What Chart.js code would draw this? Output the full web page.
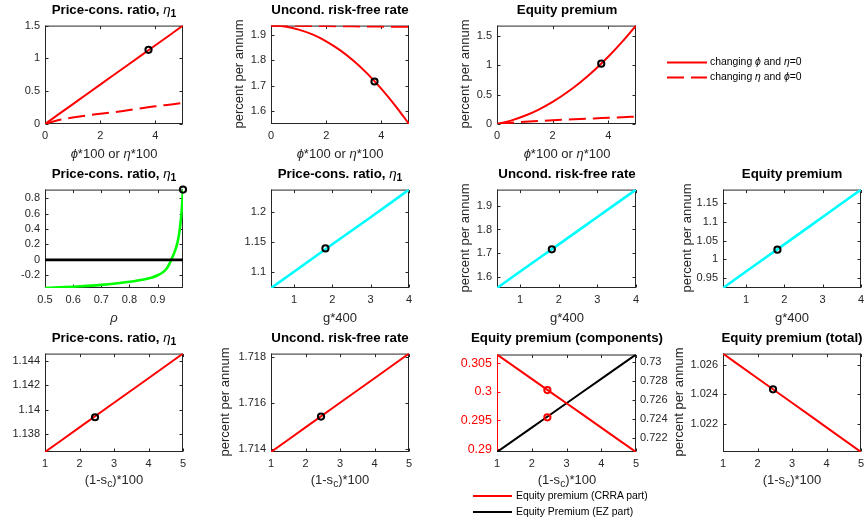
<!DOCTYPE html>
<html><head><meta charset="utf-8">
<script src="https://cdn.jsdelivr.net/npm/chart.js@4.4.1/dist/chart.umd.min.js"></script>
<style>
html,body{margin:0;padding:0;background:#fff}
body{width:864px;height:522px;position:relative;overflow:hidden;font-family:"Liberation Sans",Arial,Helvetica,sans-serif;}
canvas{position:absolute}
.txt{position:absolute;white-space:nowrap;line-height:1;}
.title{font-weight:bold;color:#000}
.lab{color:#262626;font-weight:normal}
.ylab{position:absolute;white-space:nowrap;color:#262626;font-weight:normal;text-align:center;width:160px;height:16px;line-height:16px;transform-origin:80px 8px;transform:rotate(-90deg)}
.lg{color:#000}
.gr{font-style:italic;font-weight:normal}
sub{font-size:78%;line-height:0;vertical-align:-0.28em}
svg{position:absolute;left:0;top:0}
</style></head><body>
<script>
// ---------------- DATA ----------------
// Row 1: changing phi (solid) or eta (dashed)
const phiEtaX = [0,0.5,1,1.5,2,2.5,3,3.5,4,4.5,5];
const pcPhi   = [0,0.15,0.30,0.45,0.60,0.75,0.90,1.05,1.20,1.35,1.50];
const pcEta   = [0,0.06,0.10,0.13,0.155,0.18,0.21,0.24,0.27,0.295,0.32];
const rfPhi   = [1.937,1.933,1.921,1.902,1.875,1.840,1.797,1.746,1.687,1.621,1.548];
const rfEta   = [1.937,1.9365,1.936,1.9355,1.935,1.9345,1.934,1.9335,1.933,1.9325,1.932];
const epPhi   = [0,0.058,0.140,0.247,0.378,0.534,0.714,0.919,1.148,1.402,1.680];
const epEta   = [0,0.020,0.037,0.050,0.064,0.075,0.085,0.096,0.106,0.117,0.127];
const phiMarkX = 3.75;
const phiMarkY = [1.13, 1.716, 1.03];           // pc, rf, ep

// Row 2: rho and g
const rhoX  = [0.5,0.55,0.6,0.65,0.7,0.75,0.8,0.85,0.88,0.9,0.92,0.93,0.94,0.95,0.96,0.97,0.975,0.98,0.985,0.99];
const pcRho = [-0.365,-0.357,-0.348,-0.337,-0.324,-0.307,-0.285,-0.255,-0.228,-0.200,-0.158,-0.122,-0.065,0.015,0.10,0.22,0.31,0.44,0.62,0.91];
const rhoZeroX = [0.5,0.99];
const rhoZeroY = [0,0];
const rhoMark = [0.99, 0.91];
const gX  = [0.4,1,2,3,4];
const pcG = [1.074,1.101,1.147,1.192,1.238];
const rfG = [1.552,1.622,1.737,1.853,1.969];
const epG = [0.924,0.968,1.040,1.113,1.186];
const gMarkX = 1.82;
const gMarkY = [1.14, 1.716, 1.026];

// Row 3: (1-s_c)*100
const scX    = [1,2,3,4,5];
const pcSc   = [1.13656,1.13857,1.14058,1.14259,1.1446];
const rfSc   = [1.71386,1.71493,1.716,1.71707,1.71814];
const epCrra = [0.3065,0.30225,0.298,0.29375,0.2895];
const epEz   = [0.72058,0.72313,0.72568,0.72822,0.73077];
const epTot  = [1.02677,1.0251,1.02344,1.02177,1.0201];
const scMarkX = 2.45;
const scMarkY = [1.1394, 1.7154, 0.3003, 0.7242, 1.02435]; // pc, rf, crra, ez, total

// Tick values
const xTicksPhi   = [0,2,4];
const yTicksPc1   = [0,0.5,1,1.5];
const yTicksRf1   = [1.6,1.7,1.8,1.9];
const yTicksEp1   = [0,0.5,1,1.5];
const xTicksRho   = [0.5,0.6,0.7,0.8,0.9];
const yTicksPcRho = [-0.2,0,0.2,0.4,0.6,0.8];
const xTicksG     = [1,2,3,4];
const yTicksPcG   = [1.1,1.15,1.2];
const yTicksRfG   = [1.6,1.7,1.8,1.9];
const yTicksEpG   = [0.95,1,1.05,1.1,1.15];
const xTicksSc    = [1,2,3,4,5];
const yTicksPcSc  = [1.138,1.14,1.142,1.144];
const yTicksRfSc  = [1.714,1.716,1.718];
const yTicksCrra  = [0.29,0.295,0.3,0.305];
const yTicksEz    = [0.722,0.724,0.726,0.728,0.73];
const yTicksTot   = [1.022,1.024,1.026];

// Text
const tPc = 'Price-cons. ratio, <span class="gr">η</span><sub>1</sub>';
const tRf = 'Uncond. risk-free rate';
const tEp = 'Equity premium';
const tEpC = 'Equity premium (components)';
const tEpT = 'Equity premium (total)';
const xlPhi = '<span class="gr">ϕ</span>*100 or <span class="gr">η</span>*100';
const xlRho = '<span class="gr">ρ</span>';
const xlG = 'g*400';
const xlSc = '(1-s<sub>c</sub>)*100';
const ylPct = 'percent per annum';
const legTop = ['changing <span class="gr">ϕ</span> and <span class="gr">η</span>=0', 'changing <span class="gr">η</span> and <span class="gr">ϕ</span>=0'];
const legBot = ['Equity premium (CRRA part)', 'Equity Premium (EZ part)'];

// ---------------- LAYOUT ----------------
const COLS = [[45,183],[271,409],[497,636],[723,861]];
const ROWS = [[24,124],[188,288],[352,452]];
const AX = '#262626', RED = '#ff0000', BLK = '#000000', GRN = '#00ff00', CYN = '#00ffff';
const FONT = "'Liberation Sans', Arial, Helvetica, sans-serif";
Chart.defaults.font.family = FONT;
Chart.defaults.font.size = 11;
Chart.defaults.color = AX;

const pts = (xs, ys) => xs.map((x, i) => ({x, y: ys[i]}));
const dmin = (...a) => Math.min(...a.flat());
const dmax = (...a) => Math.max(...a.flat());

function line(xs, ys, color, width, dash, axis) {
  return {data: pts(xs, ys), showLine: true, borderColor: color, borderWidth: width,
    borderDash: dash || [], pointRadius: 0, pointHoverRadius: 0, fill: false,
    cubicInterpolationMode: 'monotone', yAxisID: axis || 'y', order: 2};
}
function mark(x, y, color, axis) {
  return {data: [{x, y}], showLine: false, pointRadius: 3.1, pointHoverRadius: 3.1,
    pointBorderWidth: 2, pointBorderColor: color, pointBackgroundColor: 'rgba(0,0,0,0)',
    borderColor: color, clip: false, yAxisID: axis || 'y', order: 0};
}

const boxPlugin = {
  id: 'mbox',
  beforeDatasetsDraw(chart, args, opts) {
    const ctx = chart.ctx, a = chart.chartArea, sc = chart.scales;
    const l = a.left + 0.5, r = a.right - 0.5, t = a.top + 0.5, b = a.bottom - 0.5;
    const TL = 3;
    const lc = opts.leftColor || AX;
    ctx.save(); ctx.lineWidth = 1; ctx.setLineDash([]);
    const seg = (c, list) => { ctx.strokeStyle = c; ctx.beginPath();
      for (const p of list) { ctx.moveTo(p[0], p[1]); ctx.lineTo(p[2], p[3]); } ctx.stroke(); };
    const xs = sc.x.ticks.map(tk => Math.round(sc.x.getPixelForValue(tk.value)) + 0.5);
    seg(AX, xs.flatMap(px => [[px, b, px, b - TL], [px, t, px, t + TL]]));
    const ys = sc.y.ticks.map(tk => Math.round(sc.y.getPixelForValue(tk.value)) + 0.5);
    if (sc.y2) {
      seg(lc, ys.map(py => [l, py, l + TL, py]));
      const y2s = sc.y2.ticks.map(tk => Math.round(sc.y2.getPixelForValue(tk.value)) + 0.5);
      seg(AX, y2s.map(py => [r, py, r - TL, py]));
    } else {
      seg(AX, ys.flatMap(py => [[l, py, l + TL, py], [r, py, r - TL, py]]));
    }
    seg(AX, [[l - 0.5, t, r + 0.5, t], [l - 0.5, b, r + 0.5, b], [r, t - 0.5, r, b + 0.5]]);
    seg(lc, [[l, t - 0.5, l, b + 0.5]]);
    ctx.restore();
  }
};

const LW = 50, TP = 10, BH = 26;
function xScale(min, max, ticks) {
  return {type: 'linear', position: 'bottom', min, max,
    afterBuildTicks: s => { s.ticks = ticks.map(v => ({value: v})); },
    afterFit: s => { s.height = BH; },
    grid: {display: false, drawTicks: false}, border: {display: false},
    ticks: {padding: 5, maxRotation: 0, autoSkip: false, callback: v => String(v)}};
}
function yScale(min, max, ticks, pos, color, w, fs) {
  return {type: 'linear', position: pos, min, max,
    afterBuildTicks: s => { s.ticks = ticks.map(v => ({value: v})); },
    afterFit: s => { s.width = w; },
    grid: {display: false, drawTicks: false}, border: {display: false},
    ticks: {padding: pos === 'left' ? 5 : 4, autoSkip: false, color: color || AX,
      font: {size: fs || 11}, callback: v => String(v)}};
}

function txt(html, cls, x, base, fs, align) {
  const d = document.createElement('div');
  d.className = 'txt ' + cls; d.innerHTML = html;
  d.style.fontSize = fs + 'px';
  d.style.top = Math.round(base - fs * 0.8465) + 'px';
  d.style.left = Math.round(x) + 'px';
  if (align === 'center') d.style.transform = 'translateX(-50%)';
  document.body.appendChild(d);
}
function ytxt(html, cx, cy, fs) {
  const d = document.createElement('div');
  d.className = 'ylab'; d.innerHTML = html; d.style.fontSize = fs + 'px';
  d.style.left = Math.round(cx - 80) + 'px'; d.style.top = Math.round(cy - 8) + 'px';
  document.body.appendChild(d);
}

function panel(o) {
  const [L, R] = COLS[o.col], [T, B] = ROWS[o.row];
  const RW = o.y2 ? 44 : 14;
  const W = LW + (R - L) + RW, H = TP + (B - T) + BH;
  const cv = document.createElement('canvas');
  cv.width = W; cv.height = H;
  cv.style.left = (L - LW) + 'px'; cv.style.top = (T - TP) + 'px';
  cv.style.width = W + 'px'; cv.style.height = H + 'px';
  document.body.appendChild(cv);
  const scales = {x: xScale(o.x[0], o.x[1], o.x[2]), y: yScale(o.y[0], o.y[1], o.y[2], 'left', o.yColor, LW, o.yfs)};
  if (o.y2) scales.y2 = yScale(o.y2[0], o.y2[1], o.y2[2], 'right', AX, RW);
  new Chart(cv, {
    type: 'scatter',
    data: {datasets: o.ds},
    options: {responsive: false, animation: false, devicePixelRatio: 1, events: [],
      layout: {autoPadding: false, padding: {left: 0, top: TP, right: o.y2 ? 0 : RW, bottom: 0}},
      plugins: {legend: {display: false}, tooltip: {enabled: false}, mbox: {leftColor: o.yColor}},
      scales},
    plugins: [boxPlugin]
  });
  txt(o.title, 'title', (L + R) / 2, T - 10, 13.3, 'center');
  if (o.xl) txt(o.xl, 'lab', (L + R) / 2, B + (o.row === 2 ? 32 : 34), 13, 'center');
  if (o.yl) ytxt(o.yl, L - o.yoff, (T + B) / 2, 13);
}

// ---------------- PANELS ----------------
panel({col: 0, row: 0, title: tPc, xl: xlPhi,
  x: [0, 5, xTicksPhi], y: [0, dmax(pcPhi, pcEta), yTicksPc1],
  ds: [mark(phiMarkX, phiMarkY[0], BLK), line(phiEtaX, pcPhi, RED, 2), line(phiEtaX, pcEta, RED, 2, [17, 7])]});
panel({col: 1, row: 0, title: tRf, xl: xlPhi, yl: ylPct, yoff: 32,
  x: [0, 5, xTicksPhi], y: [dmin(rfPhi, rfEta), dmax(rfPhi, rfEta), yTicksRf1],
  ds: [mark(phiMarkX, phiMarkY[1], BLK), line(phiEtaX, rfPhi, RED, 2), line(phiEtaX, rfEta, RED, 2, [17, 7])]});
panel({col: 2, row: 0, title: tEp, xl: xlPhi, yl: ylPct, yoff: 32,
  x: [0, 5, xTicksPhi], y: [0, dmax(epPhi, epEta), yTicksEp1],
  ds: [mark(phiMarkX, phiMarkY[2], BLK), line(phiEtaX, epPhi, RED, 2), line(phiEtaX, epEta, RED, 2, [17, 7])]});

panel({col: 0, row: 1, title: tPc, xl: xlRho,
  x: [0.5, 0.99, xTicksRho], y: [dmin(pcRho), dmax(pcRho), yTicksPcRho],
  ds: [mark(rhoMark[0], rhoMark[1], BLK), line(rhoZeroX, rhoZeroY, BLK, 2.6), line(rhoX, pcRho, GRN, 2.6)]});
panel({col: 1, row: 1, title: tPc, xl: xlG,
  x: [0.4, 4, xTicksG], y: [dmin(pcG), dmax(pcG), yTicksPcG],
  ds: [mark(gMarkX, gMarkY[0], BLK), line(gX, pcG, CYN, 2.6)]});
panel({col: 2, row: 1, title: tRf, xl: xlG, yl: ylPct, yoff: 32,
  x: [0.4, 4, xTicksG], y: [dmin(rfG), dmax(rfG), yTicksRfG],
  ds: [mark(gMarkX, gMarkY[1], BLK), line(gX, rfG, CYN, 2.6)]});
panel({col: 3, row: 1, title: tEp, xl: xlG, yl: ylPct, yoff: 36,
  x: [0.4, 4, xTicksG], y: [dmin(epG), dmax(epG), yTicksEpG],
  ds: [mark(gMarkX, gMarkY[2], BLK), line(gX, epG, CYN, 2.6)]});

panel({col: 0, row: 2, title: tPc, xl: xlSc,
  x: [1, 5, xTicksSc], y: [dmin(pcSc), dmax(pcSc), yTicksPcSc],
  ds: [mark(scMarkX, scMarkY[0], BLK), line(scX, pcSc, RED, 2)]});
panel({col: 1, row: 2, title: tRf, xl: xlSc, yl: ylPct, yoff: 46,
  x: [1, 5, xTicksSc], y: [dmin(rfSc), dmax(rfSc), yTicksRfSc],
  ds: [mark(scMarkX, scMarkY[1], BLK), line(scX, rfSc, RED, 2)]});
panel({col: 2, row: 2, title: tEpC, xl: xlSc, yColor: RED, yfs: 12.5,
  x: [1, 5, xTicksSc], y: [dmin(epCrra), dmax(epCrra), yTicksCrra], y2: [dmin(epEz), dmax(epEz), yTicksEz],
  ds: [mark(scMarkX, scMarkY[2], RED), mark(scMarkX, scMarkY[3], RED, 'y2'),
       line(scX, epCrra, RED, 2), line(scX, epEz, BLK, 2, null, 'y2')]});
panel({col: 3, row: 2, title: tEpT, xl: xlSc, yl: ylPct, yoff: 44,
  x: [1, 5, xTicksSc], y: [dmin(epTot), dmax(epTot), yTicksTot],
  ds: [mark(scMarkX, scMarkY[4], BLK), line(scX, epTot, RED, 2)]});

// ---------------- LEGENDS ----------------
const NS = 'http://www.w3.org/2000/svg';
const svg = document.createElementNS(NS, 'svg');
svg.setAttribute('width', 864); svg.setAttribute('height', 522);
function sline(x1, y1, x2, y2, c, dash) {
  const l = document.createElementNS(NS, 'line');
  l.setAttribute('x1', x1); l.setAttribute('y1', y1); l.setAttribute('x2', x2); l.setAttribute('y2', y2);
  l.setAttribute('stroke', c); l.setAttribute('stroke-width', 2);
  if (dash) l.setAttribute('stroke-dasharray', dash);
  svg.appendChild(l);
}
sline(667, 62.5, 707, 62.5, RED);
sline(667, 77.5, 707, 77.5, RED, '17 7');
sline(473, 496, 512, 496, RED);
sline(473, 512, 512, 512, BLK);
document.body.appendChild(svg);
txt(legTop[0], 'lg', 710, 66.3, 10.4);
txt(legTop[1], 'lg', 710, 81.3, 10.4);
txt(legBot[0], 'lg', 516, 499.8, 10.4);
txt(legBot[1], 'lg', 516, 515.8, 10.4);
</script></body></html>
